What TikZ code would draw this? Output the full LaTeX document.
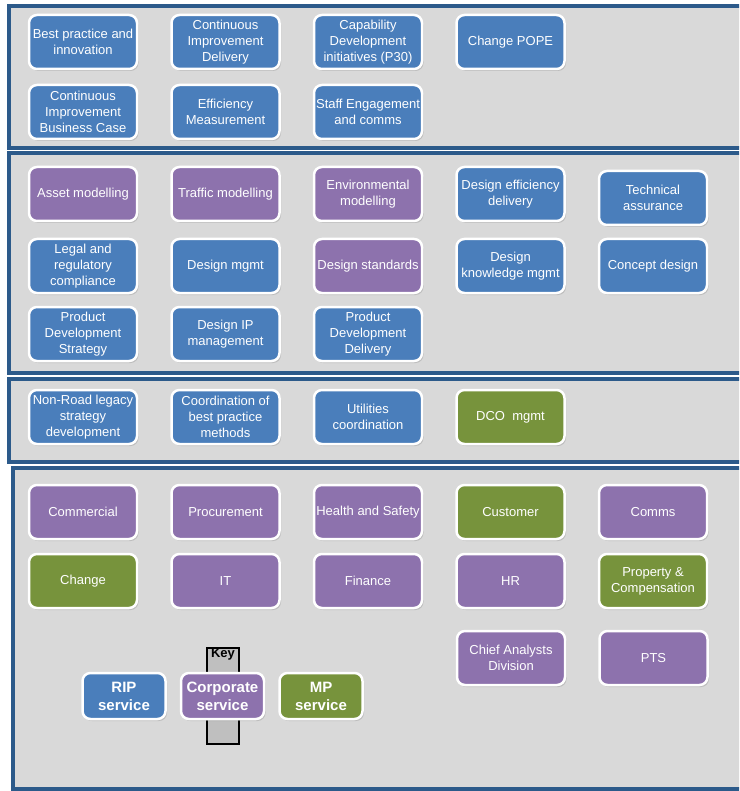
\documentclass[tikz,border=0pt]{standalone}
\usepackage{fontspec}
\setmainfont{Liberation Sans}
\usetikzlibrary{positioning,shadows}
\definecolor{panelblue}{HTML}{2C5A8A}
\definecolor{panelgray}{HTML}{D9D9D9}
\definecolor{ripblue}{HTML}{4A7EBB}
\definecolor{corppurple}{HTML}{8D72AD}
\definecolor{mpgreen}{HTML}{77933C}
\definecolor{keygray}{HTML}{BFBFBF}
\pgfmathsetmacro{\boxgap}{32}
\pgfmathsetmacro{\boxwidth}{108}
\pgfmathsetmacro{\boxheight}{54}
\pgfmathsetmacro{\keygap}{13}
\tikzset{
  panel/.style={fill=panelgray, draw=panelblue, line width=3.5pt},
  service/.style={rounded corners=8pt, draw=white, line width=2.5pt,
    text=white, align=center, inner sep=0.5pt,
    minimum width=\boxwidth, minimum height=\boxheight,
    font=\fontsize{13}{16}\selectfont,
    drop shadow={shadow xshift=1.5pt, shadow yshift=-2pt, opacity=0.3}},
  rip/.style={service, fill=ripblue},
  corporate/.style={service, fill=corppurple},
  mp/.style={service, fill=mpgreen},
  keyentry/.style={minimum width=83, minimum height=46,
    font=\fontsize{15}{18}\bfseries\selectfont}
}

\begin{document}
\begin{tikzpicture}[x=1pt, y=-1pt]
    \useasboundingbox (0,0) rectangle (739,791);
    % panels
    \begin{scope}
        \clip (0,0) rectangle (739,791);
        \draw[panel] (9,6) rectangle (760,148);
        \draw[panel] (9,153) rectangle (760,373);
        \draw[panel] (9,379) rectangle (760,462);
        \draw[panel] (13,468) rectangle (760,789);
    \end{scope}
    % improvement
    \node[rip] (best_practice) at (83,42) {Best practice and\\innovation};
    \node[rip, right=\boxgap of best_practice] (ci_delivery) {Continuous\\Improvement\\Delivery};
    \node[rip, right=\boxgap of ci_delivery] (capability_dev) {Capability\\Development\\initiatives (P30)};
    \node[rip, right=\boxgap of capability_dev] (change_pope) {Change POPE};
    \node[rip] (ci_business_case) at (83,112) {Continuous\\Improvement\\Business Case};
    \node[rip, right=\boxgap of ci_business_case] (efficiency) {Efficiency\\Measurement};
    \node[rip, right=\boxgap of efficiency] (staff_engagement) {Staff Engagement\\and comms};
    % design
    \node[corporate] (asset_modelling) at (83,194) {Asset modelling};
    \node[corporate, right=\boxgap of asset_modelling] (traffic_modelling) {Traffic modelling};
    \node[corporate, right=\boxgap of traffic_modelling] (env_modelling) {Environmental\\modelling};
    \node[rip, right=\boxgap of env_modelling] (design_efficiency) {Design efficiency\\delivery};
    \node[rip, right=\boxgap of design_efficiency, yshift=-4pt] (tech_assurance) {Technical\\assurance};
    \node[rip] (legal_compliance) at (83,266) {Legal and\\regulatory\\compliance};
    \node[rip, right=\boxgap of legal_compliance] (design_mgmt) {Design mgmt};
    \node[corporate, right=\boxgap of design_mgmt] (design_standards) {Design standards};
    \node[rip, right=\boxgap of design_standards] (design_knowledge) {Design\\knowledge mgmt};
    \node[rip, right=\boxgap of design_knowledge] (concept_design) {Concept design};
    \node[rip] (product_strategy) at (83,334) {Product\\Development\\Strategy};
    \node[rip, right=\boxgap of product_strategy] (design_ip) {Design IP\\management};
    \node[rip, right=\boxgap of design_ip] (product_delivery) {Product\\Development\\Delivery};
    % legacy and coordination
    \node[rip] (nonroad_legacy) at (83,417) {Non-Road legacy\\strategy\\development};
    \node[rip, right=\boxgap of nonroad_legacy] (best_practice_coord) {Coordination of\\best practice\\methods};
    \node[rip, right=\boxgap of best_practice_coord] (utilities_coord) {Utilities\\coordination};
    \node[mp, right=\boxgap of utilities_coord] (dco_mgmt) {DCO\ \ mgmt};
    % corporate functions
    \node[corporate] (commercial) at (83,512) {Commercial};
    \node[corporate, right=\boxgap of commercial] (procurement) {Procurement};
    \node[corporate, right=\boxgap of procurement] (health_safety) {Health and Safety};
    \node[mp, right=\boxgap of health_safety] (customer) {Customer};
    \node[corporate, right=\boxgap of customer] (comms) {Comms};
    \node[mp] (change) at (83,581) {Change};
    \node[corporate, right=\boxgap of change] (it) {IT};
    \node[corporate, right=\boxgap of it] (finance) {Finance};
    \node[corporate, right=\boxgap of finance] (hr) {HR};
    \node[mp, right=\boxgap of hr] (property) {Property \&\\Compensation};
    \node[corporate] (chief_analysts) at (511,658) {Chief Analysts\\Division};
    \node[corporate, right=\boxgap of chief_analysts] (pts) {PTS};
    % key
    \node[fill=keygray, draw=black, line width=2pt, minimum width=32, minimum height=96] (key_box) at (223,696) {};
    \node[anchor=north, inner sep=1pt, font=\fontsize{13}{15}\bfseries\selectfont] (key_label) at (key_box.north) {Key};
    \node[rip, keyentry] (rip_key) at (124,696) {RIP\\service};
    \node[corporate, keyentry, right=\keygap of rip_key] (corporate_key) {Corporate\\service};
    \node[mp, keyentry, right=\keygap of corporate_key] (mp_key) {MP\\service};
\end{tikzpicture}
\end{document}
